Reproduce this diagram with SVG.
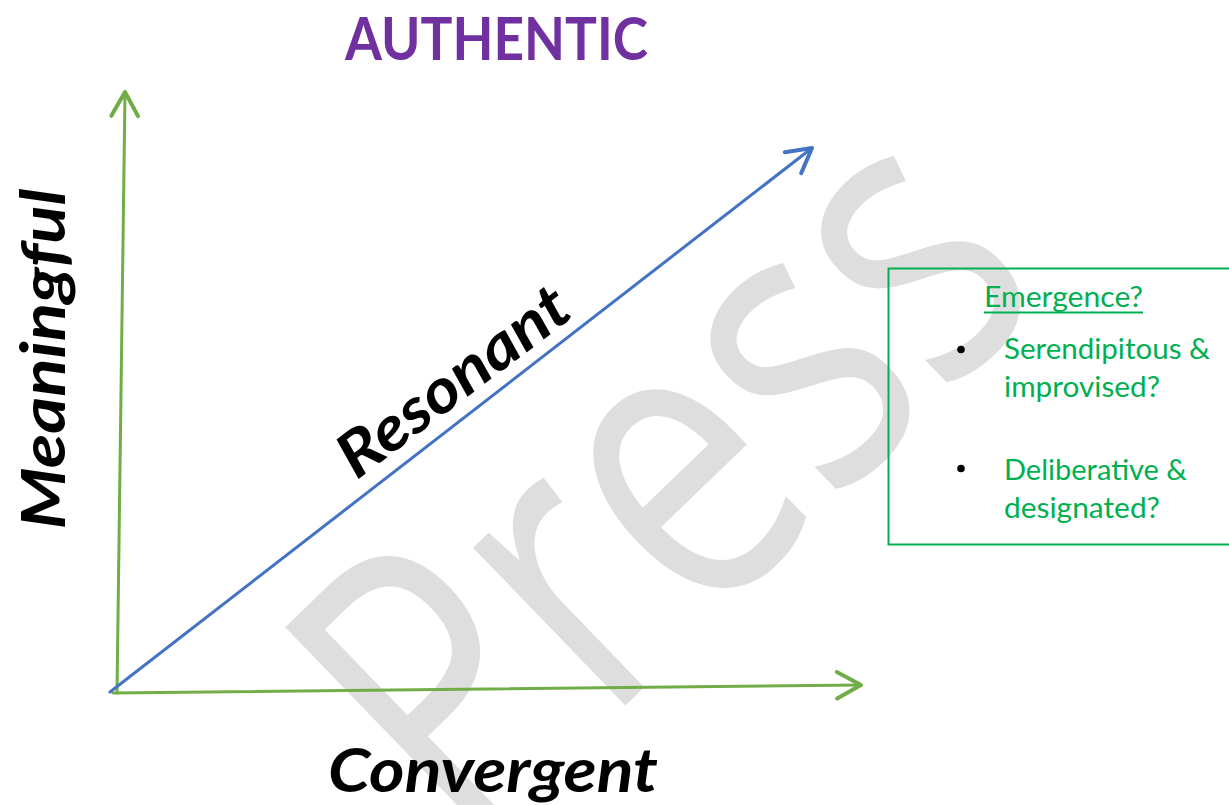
<svg xmlns="http://www.w3.org/2000/svg" width="1229" height="805" viewBox="0 0 1229 805">
<defs>
<style>
.wm{font-family:"Open Sans",Lato,"Liberation Sans",sans-serif;font-size:410px;fill:#DEDEDE}
.title{font-family:Lato,"Open Sans","Liberation Sans",sans-serif;font-weight:700;font-size:60px;fill:#7030A0}
.lbl{font-family:Lato,"Open Sans","Liberation Sans",sans-serif;font-weight:700;font-style:italic;font-size:62px;fill:#000000}
.bt{font-family:Lato,"Open Sans","Liberation Sans",sans-serif;font-size:29px;fill:#00B050}
.axis{stroke:#70AD47;stroke-width:3;fill:none;stroke-linecap:round}
.diag{stroke:#4472C4;stroke-width:3;fill:none;stroke-linecap:round}
</style>
<marker id="arrG" markerUnits="userSpaceOnUse" markerWidth="40" markerHeight="40" viewBox="-25 -15 30 30" refX="0" refY="0" orient="auto" overflow="visible">
<path d="M-18,-10 L0,0 L-18,10" fill="none" stroke="#70AD47" stroke-width="3" stroke-linecap="round" stroke-linejoin="round"/>
</marker>
<marker id="arrB" markerUnits="userSpaceOnUse" markerWidth="40" markerHeight="40" viewBox="-25 -15 30 30" refX="0" refY="0" orient="auto" overflow="visible">
<path d="M-18,-10 L0,0 L-18,10" fill="none" stroke="#4472C4" stroke-width="3" stroke-linecap="round" stroke-linejoin="round"/>
</marker>
</defs>
<rect width="1229" height="805" fill="#FFFFFF"/>
<g id="watermark">
<text class="wm" transform="rotate(-44)" x="-262" y="942" textLength="815" lengthAdjust="spacingAndGlyphs">Press</text>
</g>
<g id="title">
<text class="title" x="496.5" y="60" text-anchor="middle" textLength="303" lengthAdjust="spacingAndGlyphs">AUTHENTIC</text>
</g>
<g id="connectors">
<line class="axis" x1="117" y1="693" x2="125" y2="92" marker-end="url(#arrG)"/>
<line class="axis" x1="113" y1="693" x2="861" y2="685" marker-end="url(#arrG)"/>
<line class="diag" x1="110" y1="692" x2="812" y2="148" marker-end="url(#arrB)"/>
</g>
<g id="meaningful">
<text class="lbl" transform="translate(65,359) rotate(-90)" x="0" y="0" text-anchor="middle" textLength="341" lengthAdjust="spacingAndGlyphs">Meaningful</text>
</g>
<g id="convergent">
<text class="lbl" x="493" y="792" text-anchor="middle" textLength="330" lengthAdjust="spacingAndGlyphs">Convergent</text>
</g>
<g id="resonant">
<text class="lbl" transform="translate(466,398) rotate(-37)" x="0" y="0" text-anchor="middle" textLength="274" lengthAdjust="spacingAndGlyphs">Resonant</text>
</g>
<g id="emergence-box">
<rect x="888.5" y="268.5" width="345" height="276" fill="none" stroke="#00B050" stroke-width="2"/>
<text class="bt" x="984" y="307" textLength="159" lengthAdjust="spacingAndGlyphs">Emergence?</text>
<line x1="984" y1="312.5" x2="1143" y2="312.5" stroke="#00B050" stroke-width="2"/>
<circle cx="961" cy="349.5" r="3.8" fill="#000000"/>
<text class="bt" x="1004" y="359" textLength="206" lengthAdjust="spacingAndGlyphs">Serendipitous &amp;</text>
<text class="bt" x="1004" y="397" textLength="156" lengthAdjust="spacingAndGlyphs">improvised?</text>
<circle cx="961" cy="468.5" r="3.8" fill="#000000"/>
<text class="bt" x="1004" y="480" textLength="183" lengthAdjust="spacingAndGlyphs">Deliberative &amp;</text>
<text class="bt" x="1004" y="518" textLength="156" lengthAdjust="spacingAndGlyphs">designated?</text>
</g>
</svg>
